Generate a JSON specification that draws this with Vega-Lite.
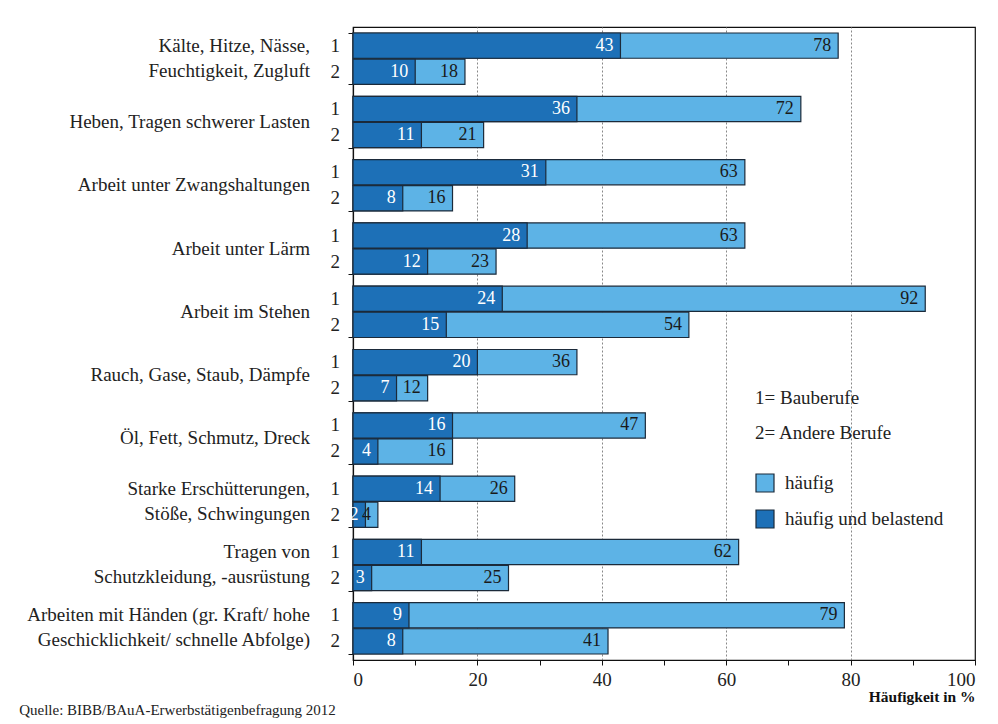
{
  "$schema": "https://vega.github.io/schema/vega-lite/v6.json",
  "autosize": "none",
  "padding": {"left": 353, "top": 27, "right": 23, "bottom": 64},
  "width": 622,
  "height": 633,
  "background": "white",
  "config": {
    "font": "Liberation Serif",
    "view": {"stroke": "#111111", "strokeWidth": 1.2}
  },
  "title": {
    "text": "Quelle: BIBB/BAuA-Erwerbstätigenbefragung 2012",
    "orient": "bottom",
    "anchor": "start",
    "frame": "bounds",
    "offset": -2,
    "dx": -8,
    "fontSize": 15,
    "fontWeight": "normal",
    "font": "Liberation Serif",
    "color": "#222222"
  },
  "data": {
    "values": [
      {"cat": "Kälte, Hitze, Nässe,|Feuchtigkeit, Zugluft", "grp": "1", "typ": "häufig", "value": 78},
      {"cat": "Kälte, Hitze, Nässe,|Feuchtigkeit, Zugluft", "grp": "2", "typ": "häufig", "value": 18},
      {"cat": "Heben, Tragen schwerer Lasten", "grp": "1", "typ": "häufig", "value": 72},
      {"cat": "Heben, Tragen schwerer Lasten", "grp": "2", "typ": "häufig", "value": 21},
      {"cat": "Arbeit unter Zwangshaltungen", "grp": "1", "typ": "häufig", "value": 63},
      {"cat": "Arbeit unter Zwangshaltungen", "grp": "2", "typ": "häufig", "value": 16},
      {"cat": "Arbeit unter Lärm", "grp": "1", "typ": "häufig", "value": 63},
      {"cat": "Arbeit unter Lärm", "grp": "2", "typ": "häufig", "value": 23},
      {"cat": "Arbeit im Stehen", "grp": "1", "typ": "häufig", "value": 92},
      {"cat": "Arbeit im Stehen", "grp": "2", "typ": "häufig", "value": 54},
      {"cat": "Rauch, Gase, Staub, Dämpfe", "grp": "1", "typ": "häufig", "value": 36},
      {"cat": "Rauch, Gase, Staub, Dämpfe", "grp": "2", "typ": "häufig", "value": 12},
      {"cat": "Öl, Fett, Schmutz, Dreck", "grp": "1", "typ": "häufig", "value": 47},
      {"cat": "Öl, Fett, Schmutz, Dreck", "grp": "2", "typ": "häufig", "value": 16},
      {"cat": "Starke Erschütterungen,|Stöße, Schwingungen", "grp": "1", "typ": "häufig", "value": 26},
      {"cat": "Starke Erschütterungen,|Stöße, Schwingungen", "grp": "2", "typ": "häufig", "value": 4},
      {"cat": "Tragen von|Schutzkleidung, -ausrüstung", "grp": "1", "typ": "häufig", "value": 62},
      {"cat": "Tragen von|Schutzkleidung, -ausrüstung", "grp": "2", "typ": "häufig", "value": 25},
      {"cat": "Arbeiten mit Händen (gr. Kraft/ hohe|Geschicklichkeit/ schnelle Abfolge)", "grp": "1", "typ": "häufig", "value": 79},
      {"cat": "Arbeiten mit Händen (gr. Kraft/ hohe|Geschicklichkeit/ schnelle Abfolge)", "grp": "2", "typ": "häufig", "value": 41},
      {"cat": "Kälte, Hitze, Nässe,|Feuchtigkeit, Zugluft", "grp": "1", "typ": "häufig und belastend", "value": 43},
      {"cat": "Kälte, Hitze, Nässe,|Feuchtigkeit, Zugluft", "grp": "2", "typ": "häufig und belastend", "value": 10},
      {"cat": "Heben, Tragen schwerer Lasten", "grp": "1", "typ": "häufig und belastend", "value": 36},
      {"cat": "Heben, Tragen schwerer Lasten", "grp": "2", "typ": "häufig und belastend", "value": 11},
      {"cat": "Arbeit unter Zwangshaltungen", "grp": "1", "typ": "häufig und belastend", "value": 31},
      {"cat": "Arbeit unter Zwangshaltungen", "grp": "2", "typ": "häufig und belastend", "value": 8},
      {"cat": "Arbeit unter Lärm", "grp": "1", "typ": "häufig und belastend", "value": 28},
      {"cat": "Arbeit unter Lärm", "grp": "2", "typ": "häufig und belastend", "value": 12},
      {"cat": "Arbeit im Stehen", "grp": "1", "typ": "häufig und belastend", "value": 24},
      {"cat": "Arbeit im Stehen", "grp": "2", "typ": "häufig und belastend", "value": 15},
      {"cat": "Rauch, Gase, Staub, Dämpfe", "grp": "1", "typ": "häufig und belastend", "value": 20},
      {"cat": "Rauch, Gase, Staub, Dämpfe", "grp": "2", "typ": "häufig und belastend", "value": 7},
      {"cat": "Öl, Fett, Schmutz, Dreck", "grp": "1", "typ": "häufig und belastend", "value": 16},
      {"cat": "Öl, Fett, Schmutz, Dreck", "grp": "2", "typ": "häufig und belastend", "value": 4},
      {"cat": "Starke Erschütterungen,|Stöße, Schwingungen", "grp": "1", "typ": "häufig und belastend", "value": 14},
      {"cat": "Starke Erschütterungen,|Stöße, Schwingungen", "grp": "2", "typ": "häufig und belastend", "value": 2},
      {"cat": "Tragen von|Schutzkleidung, -ausrüstung", "grp": "1", "typ": "häufig und belastend", "value": 11},
      {"cat": "Tragen von|Schutzkleidung, -ausrüstung", "grp": "2", "typ": "häufig und belastend", "value": 3},
      {"cat": "Arbeiten mit Händen (gr. Kraft/ hohe|Geschicklichkeit/ schnelle Abfolge)", "grp": "1", "typ": "häufig und belastend", "value": 9},
      {"cat": "Arbeiten mit Händen (gr. Kraft/ hohe|Geschicklichkeit/ schnelle Abfolge)", "grp": "2", "typ": "häufig und belastend", "value": 8}
    ]
  },
  "layer": [
    {
      "mark": {"type": "bar", "stroke": "#1b2a3a", "strokeWidth": 1.2},
      "encoding": {
        "y": {
          "field": "cat",
          "type": "nominal",
          "sort": null,
          "scale": {"paddingInner": 0.19, "paddingOuter": 0.095},
          "axis": {
            "title": null,
            "labels": false,
            "tickBand": "extent",
            "tickSize": 5,
            "tickColor": "#111111",
            "domainColor": "#111111",
            "domainWidth": 1.2
          }
        },
        "yOffset": {
          "field": "grp",
          "type": "nominal",
          "scale": {"paddingInner": 0.03, "paddingOuter": 0}
        },
        "x": {
          "field": "value",
          "type": "quantitative",
          "stack": null,
          "scale": {"domain": [0, 100], "nice": false},
          "axis": {
            "values": [0, 10, 20, 30, 40, 50, 60, 70, 80, 90, 100],
            "labelExpr": "datum.value % 20 === 0 ? datum.label : ''",
            "labelFontSize": 19,
            "labelFont": "Liberation Serif",
            "labelColor": "#222222",
            "labelPadding": 5,
            "tickSize": 5,
            "tickColor": "#111111",
            "domainColor": "#111111",
            "domainWidth": 1.2,
            "grid": true,
            "gridDash": [2, 2],
            "gridColor": "#888888",
            "gridOpacity": {
              "condition": {"test": "datum.value % 20 === 0 && datum.value > 0 && datum.value < 100", "value": 1},
              "value": 0
            },
            "title": "Häufigkeit in %",
            "titleFont": "Liberation Serif",
            "titleFontSize": 15.5,
            "titleFontWeight": "bold",
            "titleColor": "#111111",
            "titleAnchor": "end",
            "titleAlign": "right",
            "titlePadding": 0
          }
        },
        "color": {
          "field": "typ",
          "type": "nominal",
          "scale": {"domain": ["häufig", "häufig und belastend"], "range": ["#5db3e6", "#1d70b7"]},
          "legend": {
            "orient": "none",
            "legendX": 402,
            "legendY": 362,
            "title": ["1= Bauberufe", "2= Andere Berufe"],
            "titleFont": "Liberation Serif",
            "titleFontSize": 19,
            "titleFontWeight": "normal",
            "titleColor": "#222222",
            "titleLineHeight": 35,
            "titlePadding": 30,
            "symbolType": "square",
            "symbolSize": 324,
            "symbolStrokeColor": "#1b2a3a",
            "symbolStrokeWidth": 1.2,
            "symbolOpacity": 1,
            "labelFont": "Liberation Serif",
            "labelFontSize": 19,
            "labelColor": "#222222",
            "labelOffset": 10,
            "rowPadding": 12
          }
        }
      }
    },
    {
      "mark": {"type": "text", "align": "right", "baseline": "middle", "dx": -7, "fontSize": 18, "font": "Liberation Serif"},
      "encoding": {
        "y": {"field": "cat", "type": "nominal", "sort": null},
        "yOffset": {"field": "grp", "type": "nominal"},
        "x": {"field": "value", "type": "quantitative"},
        "text": {"field": "value", "type": "quantitative"},
        "color": {
          "condition": {"test": "datum.typ === 'häufig und belastend'", "value": "#ffffff"},
          "value": "#1a1a1a"
        }
      }
    },
    {
      "transform": [{"filter": "datum.typ === 'häufig'"}],
      "mark": {"type": "text", "align": "right", "baseline": "middle", "dx": -13, "fontSize": 19, "font": "Liberation Serif", "color": "#222222"},
      "encoding": {
        "y": {"field": "cat", "type": "nominal", "sort": null},
        "yOffset": {"field": "grp", "type": "nominal"},
        "x": {"datum": 0, "type": "quantitative"},
        "text": {"field": "grp", "type": "nominal"}
      }
    },
    {
      "transform": [{"filter": "datum.typ === 'häufig' && datum.grp === '1' && indexof(datum.cat, '|') >= 0"}],
      "mark": {"type": "text", "align": "right", "baseline": "line-bottom", "lineBreak": "|", "lineHeight": 25, "dx": -43, "fontSize": 19, "font": "Liberation Serif", "color": "#222222"},
      "encoding": {
        "y": {"field": "cat", "type": "nominal", "sort": null},
        "x": {"datum": 0, "type": "quantitative"},
        "text": {"field": "cat", "type": "nominal"}
      }
    },
    {
      "transform": [{"filter": "datum.typ === 'häufig' && datum.grp === '1' && indexof(datum.cat, '|') < 0"}],
      "mark": {"type": "text", "align": "right", "baseline": "middle", "dx": -43, "fontSize": 19, "font": "Liberation Serif", "color": "#222222"},
      "encoding": {
        "y": {"field": "cat", "type": "nominal", "sort": null},
        "x": {"datum": 0, "type": "quantitative"},
        "text": {"field": "cat", "type": "nominal"}
      }
    }
  ]
}
